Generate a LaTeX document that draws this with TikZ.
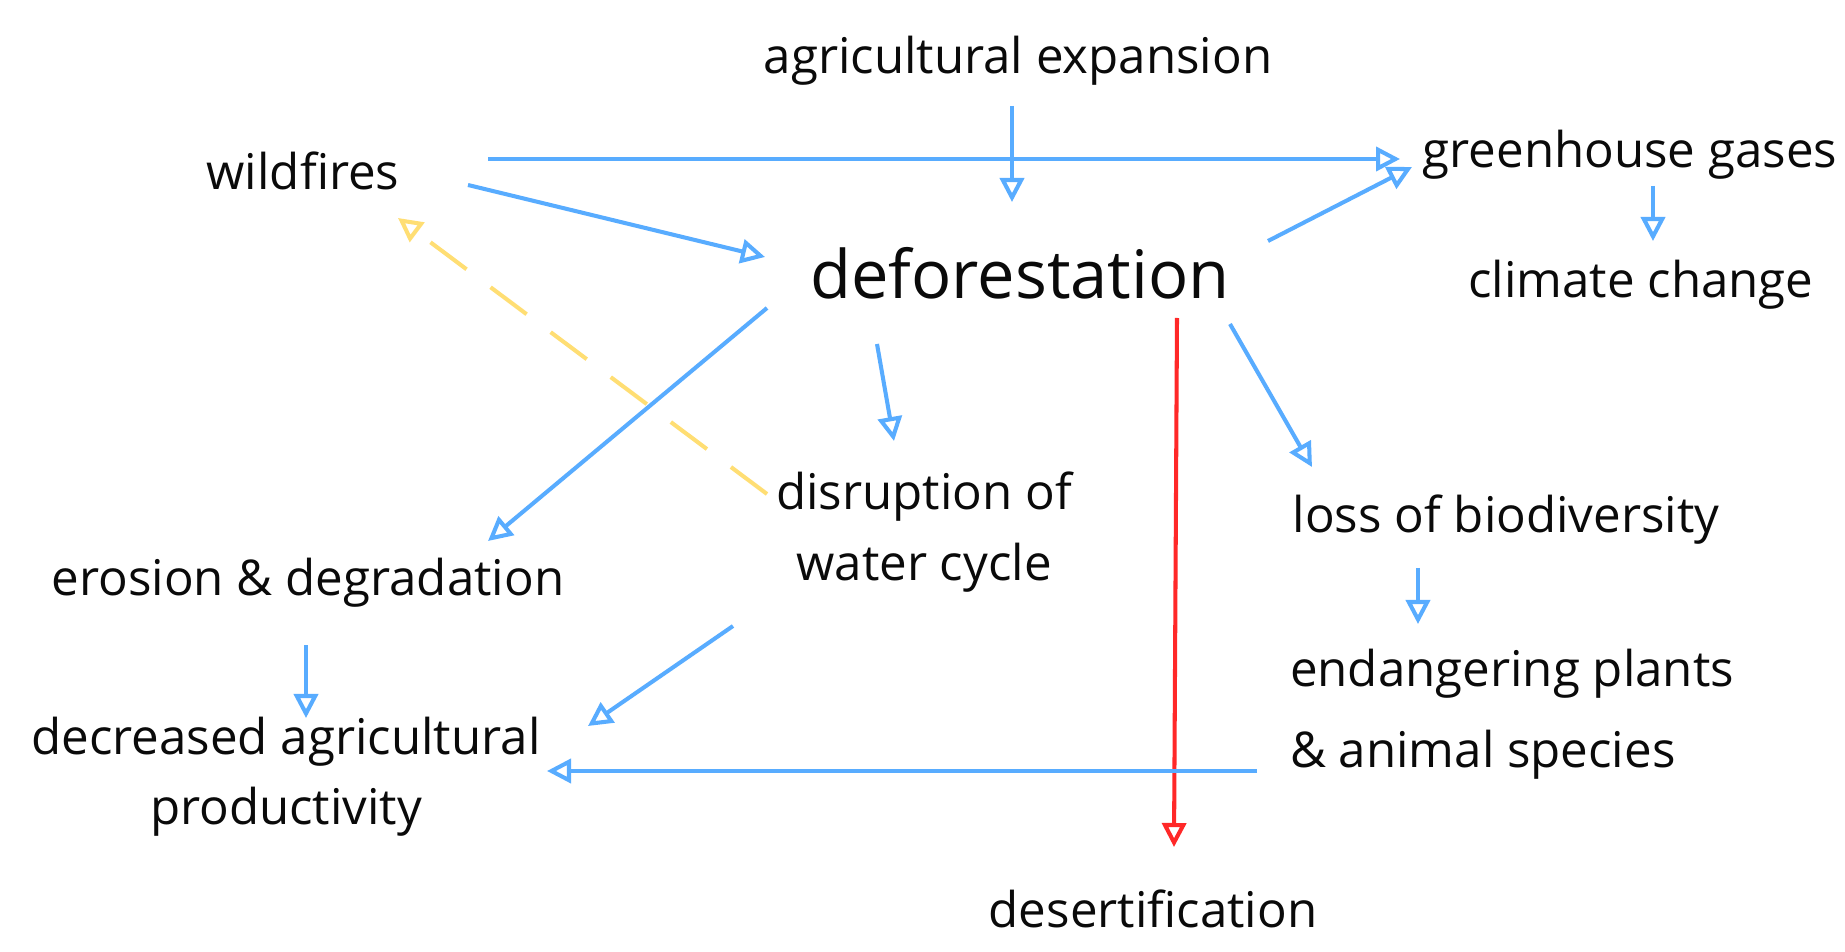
\documentclass[tikz,border=0pt]{standalone}
\usepackage{fontspec}
\setmainfont{Open Sans}
\usetikzlibrary{arrows.meta,positioning,calc}
\definecolor{causeBlue}{RGB}{88,172,255}
\definecolor{fireYellow}{RGB}{255,222,115}
\definecolor{desertRed}{RGB}{255,40,40}
\definecolor{inkBlack}{RGB}{10,10,10}
\tikzset{
  label/.style={
    text=inkBlack, align=center, inner sep=2pt,
    font=\fontsize{14}{20}\selectfont},
  biglabel/.style={
    label, font=\fontsize{19}{23}\selectfont},
  arrowline/.style={-{Triangle[open,length=2.4mm,width=2.4mm]}, line width=1.15pt, draw=causeBlue},
  redline/.style={arrowline, draw=desertRed},
  feedback/.style={arrowline, draw=fireYellow, dash pattern=on 4.5mm off 3mm}
}

\begin{document}
\begin{tikzpicture}[x=0.01cm, y=-0.01cm]

    \useasboundingbox[fill=white] (0,0) rectangle (1845,952);

    % ---- top row -----------------------------------------------
    \node[label]    (agri)    at (1018,61)  {agricultural expansion};
    \node[label]    (wild)    at (303,171)  {wildfires};
    \node[label]    (green)   at (1630,155) {greenhouse gases};
    \node[label]    (climate) at (1641,285) {climate change};
    \node[biglabel] (defor)   at (1020,273) {deforestation};

    % ---- middle row --------------------------------------------
    \node[label]    (water)   at (924,532)  {disruption of\\water cycle};
    \node[label]    (biodiv)  at (1506,520) {loss of biodiversity};
    \node[label]    (erosion) at (308,583)  {erosion \& degradation};
    \node[label, align=left, font=\fontsize{14}{23}\selectfont] (species) at (1512,714) {endangering plants\\\& animal species};

    % ---- bottom row --------------------------------------------
    \node[label]    (decr)    at (286,777)  {decreased agricultural\\productivity};
    \node[label]    (desert)  at (1153,909) {desertification};

    % ---- causes of deforestation -------------------------------
    \draw[arrowline] ([shift={(-6,45)}]agri.center)   -- ([shift={(-8,-71)}]defor.center);
    \draw[arrowline] ([shift={(165,14)}]wild.center)  -- ([shift={(-255,-16)}]defor.center);
    \draw[arrowline] ([shift={(185,-12)}]wild.center) -- ([shift={(-230,4)}]green.center);

    % ---- effects -----------------------------------------------
    \draw[arrowline] ([shift={(248,-32)}]defor.center) -- ([shift={(-218,12)}]green.center);
    \draw[arrowline] ([shift={(23,31)}]green.center)   -- ([shift={(12,-44)}]climate.center);
    \draw[arrowline] ([shift={(-253,35)}]defor.center) -- ([shift={(180,-42)}]erosion.center);
    \draw[arrowline] ([shift={(-143,71)}]defor.center) -- ([shift={(-30,-91)}]water.center);
    \draw[arrowline] ([shift={(210,51)}]defor.center)  -- ([shift={(-194,-53)}]biodiv.center);
    \draw[redline]   ([shift={(157,45)}]defor.center)  -- ([shift={(21,-62)}]desert.center);

    % ---- follow-on effects -------------------------------------
    \draw[arrowline] ([shift={(-2,62)}]erosion.center)  -- ([shift={(20,-59)}]decr.center);
    \draw[arrowline] ([shift={(-191,94)}]water.center)  -- ([shift={(302,-51)}]decr.center);
    \draw[arrowline] ([shift={(-88,48)}]biodiv.center)  -- ([shift={(-94,-90)}]species.center);
    \draw[arrowline] ([shift={(-255,57)}]species.center) -- ([shift={(261,-6)}]decr.center);

    % ---- feedback loop -----------------------------------------
    \draw[feedback]  ([shift={(-157,-38)}]water.center) -- ([shift={(95,47)}]wild.center);

  \end{tikzpicture}
\end{document}
